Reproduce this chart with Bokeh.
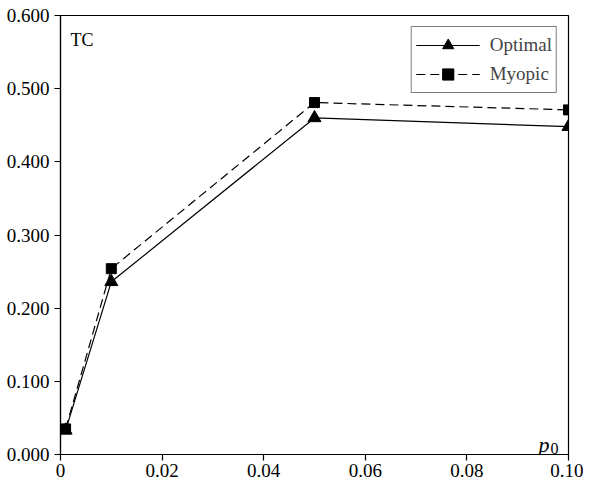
from bokeh.plotting import figure
from bokeh.models import FixedTicker, Legend, LegendItem, Label
from bokeh.embed import file_html
from bokeh.resources import INLINE

# data
p0_values = [0.001, 0.01, 0.05, 0.10]
optimal_tc = [0.033, 0.236, 0.460, 0.448]
myopic_tc = [0.035, 0.254, 0.481, 0.471]
x_ticks = [0, 0.02, 0.04, 0.06, 0.08, 0.10]
x_tick_labels = ["0", "0.02", "0.04", "0.06", "0.08", "0.10"]
y_ticks = [0.0, 0.1, 0.2, 0.3, 0.4, 0.5, 0.6]
y_tick_labels = ["0.000", "0.100", "0.200", "0.300", "0.400", "0.500", "0.600"]

FONT = "Liberation Serif"

W, H = 583, 481
BL, BR, BT, BB = 60, 15, 15, 27

p = figure(width=W, height=H, output_backend="svg", toolbar_location=None,
           x_range=(0, 0.10), y_range=(0, 0.6),
           min_border_left=BL, min_border_right=BR, min_border_top=BT, min_border_bottom=BB)
p.background_fill_color = "white"
p.border_fill_color = "white"
p.outline_line_color = "black"
p.outline_line_width = 1.2
p.xgrid.visible = False
p.ygrid.visible = False

for ax, ticks, labels in ((p.xaxis[0], x_ticks, x_tick_labels), (p.yaxis[0], y_ticks, y_tick_labels)):
    ax.ticker = FixedTicker(ticks=ticks)
    ax.major_label_overrides = {t: l for t, l in zip(ticks, labels)}
    ax.major_label_text_font = FONT
    ax.major_label_text_font_size = "19px"
    ax.major_label_text_color = "black"
    ax.axis_line_color = "black"
    ax.axis_line_width = 1.2
    ax.major_tick_line_color = "black"
    ax.major_tick_line_width = 1.2
    ax.major_tick_out = 6
    ax.major_tick_in = 0
    ax.minor_tick_line_color = None
p.xaxis.major_label_standoff = 3
p.yaxis.major_label_standoff = 5

l1 = p.line(p0_values, optimal_tc, line_color="black", line_width=1.2)
s1 = p.scatter(p0_values, optimal_tc, marker="triangle", size=13, fill_color="black", line_color="black")
l2 = p.line(p0_values, myopic_tc, line_color="black", line_width=1.2, line_dash="9 5")
s2 = p.scatter(p0_values, myopic_tc, marker="square", size=10, fill_color="black", line_color="black")

legend = Legend(items=[LegendItem(label="Optimal", renderers=[l1, s1]),
                       LegendItem(label="Myopic", renderers=[l2, s2])],
                location="top_right", margin=11, padding=4, spacing=1,
                glyph_width=64, glyph_height=28, label_height=28, label_standoff=10,
                label_text_font=FONT, label_text_font_size="19px",
                border_line_color="black", border_line_width=1.2,
                background_fill_color="white", background_fill_alpha=1.0)
p.add_layout(legend)

frame_w = W - BL - BR
frame_h = H - BT - BB
p.add_layout(Label(x=10, y=frame_h - 14, x_units="screen", y_units="screen", text="TC",
                   text_font=FONT, text_font_size="18px", text_baseline="top", text_color="black"))
p.add_layout(Label(x=frame_w - 19, y=10, x_units="screen", y_units="screen", text="p",
                   text_font=FONT, text_font_style="italic", text_font_size="22px",
                   text_align="right", text_baseline="alphabetic", text_color="black"))
p.add_layout(Label(x=frame_w - 10, y=6, x_units="screen", y_units="screen", text="0",
                   text_font=FONT, text_font_size="16px",
                   text_align="right", text_baseline="alphabetic", text_color="black"))

open("out.html", "w").write(file_html(p, INLINE))
